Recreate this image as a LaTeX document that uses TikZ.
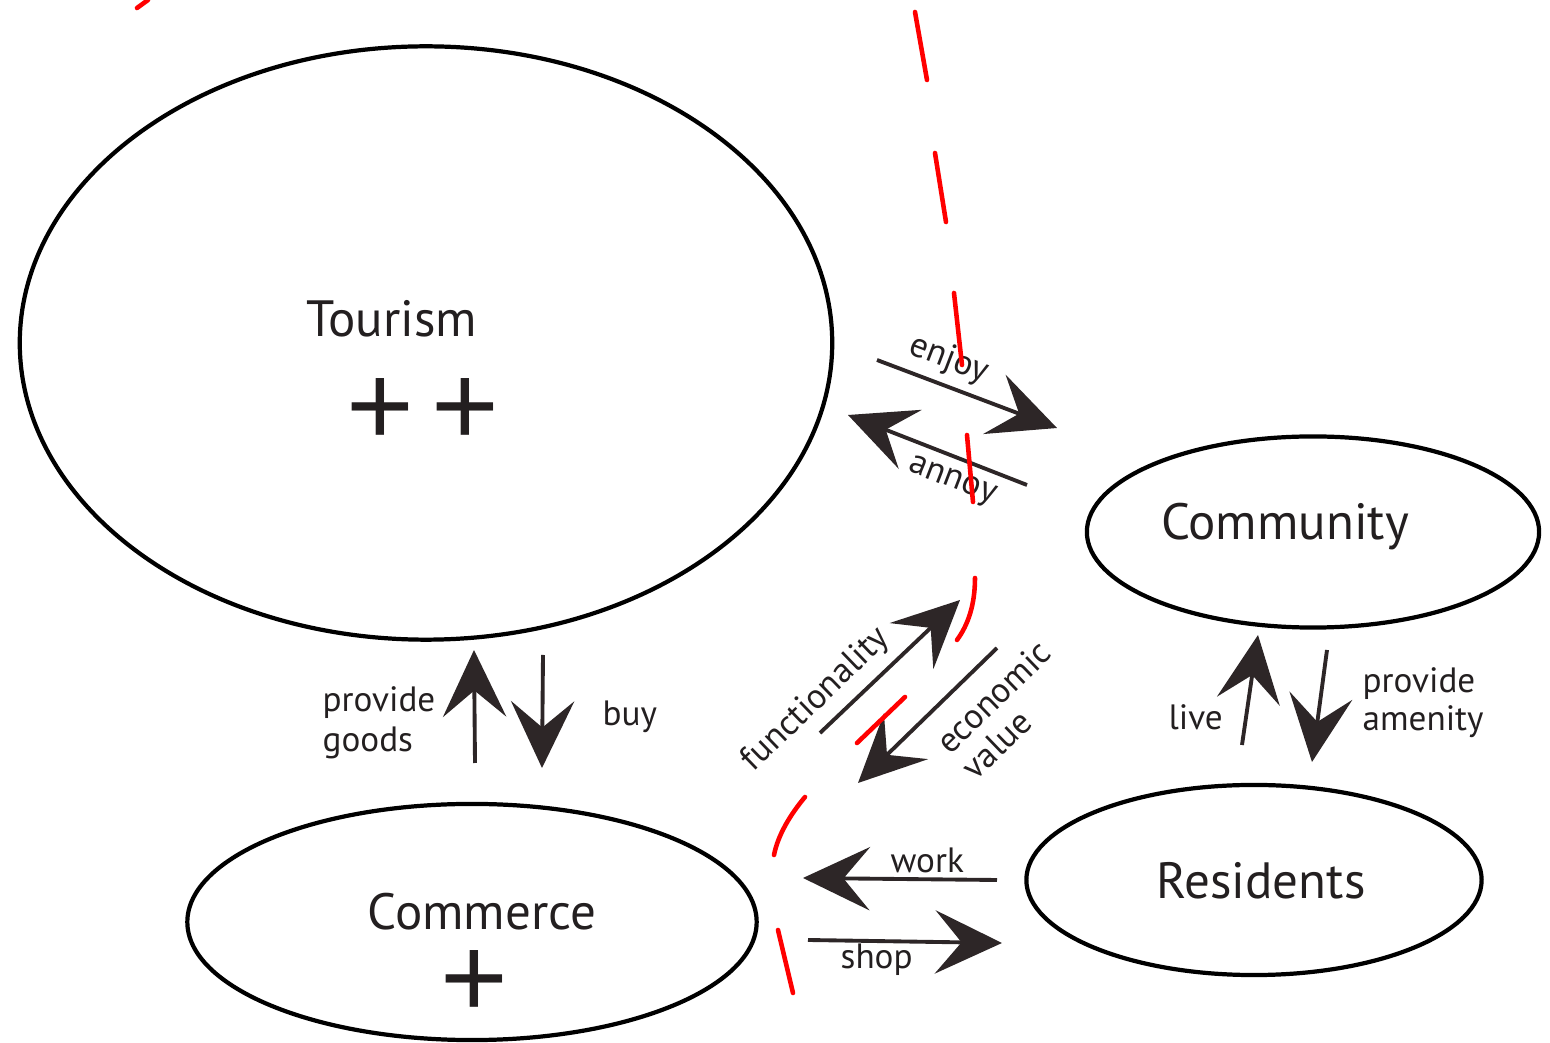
\documentclass[tikz,border=0pt]{standalone}
\usepackage{fontspec}
\setmainfont{PT Sans}
\newfontfamily\plusfont{Liberation Sans}
\usetikzlibrary{arrows.meta,shapes.geometric}
\definecolor{ink}{RGB}{35,31,32}
\definecolor{arr}{RGB}{45,38,39}
\begin{document}
\begin{tikzpicture}[x=0.01cm,y=-0.01cm,
  ell/.style={draw=black, line width=1.2pt, ellipse, inner sep=0pt},
  lbl/.style={font=\fontsize{14.5}{17}\selectfont, text=ink, inner sep=0pt},
  plus/.style={font=\plusfont\fontsize{33}{35}\selectfont, text=ink, inner sep=0pt},
  small/.style={font=\fontsize{10}{11}\selectfont, text=ink, inner sep=0pt},
  flow/.style={draw=arr, line width=1.1pt, -{Stealth[length=19pt,width=18pt,inset=7.5pt]}},
  redd/.style={draw=red, line width=1.3pt, line cap=round}]
\useasboundingbox[fill=white] (0,0) rectangle (1550,1043);

% ellipses
\node[ell, minimum width=8.12cm, minimum height=5.93cm] (tourism) at (426,343) {};
\node[ell, minimum width=4.52cm, minimum height=1.91cm] (community) at (1313,532) {};
\node[ell, minimum width=4.55cm, minimum height=1.90cm] (residents) at (1254,880) {};
\node[ell, minimum width=5.69cm, minimum height=2.36cm] (commerce) at (472,922) {};

% main labels
\node[lbl, anchor=base] (tourismlbl) at (392,337) {Tourism};
\node[plus] (p1) at (380,412) {+};
\node[plus] (p2) at (465,412) {+};
\node[lbl, anchor=base] (communitylbl) at (1285,540) {Community};
\node[lbl, anchor=base] (residentslbl) at (1261,899) {Residents};
\node[lbl, anchor=base] (commercelbl) at (482,930) {Commerce};
\node[plus] (p3) at (474,984) {+};

% arrow end points
\coordinate (enjoyS) at (877,360);   \coordinate (enjoyE) at (1057,428);
\coordinate (annoyS) at (1027,485);  \coordinate (annoyE) at (848,415);
\coordinate (funcS) at (820,733);    \coordinate (funcE) at (960,600);
\coordinate (econS) at (997,648);    \coordinate (econE) at (858,783);
\coordinate (goodsS) at (475,763);   \coordinate (goodsE) at (474,650);
\coordinate (buyS) at (543,655);     \coordinate (buyE) at (542,768);
\coordinate (liveS) at (1242,745);   \coordinate (liveE) at (1258,635);
\coordinate (amenS) at (1327,650);   \coordinate (amenE) at (1312,762);
\coordinate (workS) at (997,880);    \coordinate (workE) at (803,878);
\coordinate (shopS) at (808,940);    \coordinate (shopE) at (1002,943);

% arrows
\draw[flow] (enjoyS) -- (enjoyE);
\draw[flow] (annoyS) -- (annoyE);
\draw[flow] (funcS) -- (funcE);
\draw[flow] (econS) -- (econE);
\draw[flow] (goodsS) -- (goodsE);
\draw[flow] (buyS) -- (buyE);
\draw[flow] (liveS) -- (liveE);
\draw[flow] (amenS) -- (amenE);
\draw[flow] (workS) -- (workE);
\draw[flow] (shopS) -- (shopE);

% arrow labels
\node[small, rotate=-21] (enjoylbl) at (949,360) {enjoy};
\node[small, rotate=-21] (annoylbl) at (952,482) {annoy};
\node[small, rotate=44] (funclbl) at (816,700) {functionality};
\node[small, rotate=44, align=left, font=\fontsize{10}{10.5}\selectfont] (econlbl) at (1006,710) {economic\\value};
\node[small, anchor=west, align=left, font=\fontsize{10}{11.4}\selectfont] (goodslbl) at (322,723) {provide\\goods};
\node[small, anchor=base west] (buylbl) at (602,726) {buy};
\node[small, anchor=base west] (livelbl) at (1168,730) {live};
\node[small, anchor=west, align=left, font=\fontsize{10}{10.8}\selectfont] (amenlbl) at (1362,703) {provide\\amenity};
\node[small, anchor=base west] (worklbl) at (890,873) {work};
\node[small, anchor=base west] (shoplbl) at (840,969) {shop};

% red dashed boundary
\draw[redd] (137,8) -- (148,0);
\draw[redd] (915,12) -- (927,80);
\draw[redd] (935,153) -- (946,222);
\draw[redd] (954,293) -- (962,365);
\draw[redd] (967,435) -- (973,502);
\draw[redd] (975,578) .. controls (975,605) and (968,625) .. (957,640);
\draw[redd] (905,697) -- (857,743);
\draw[redd] (805,797) .. controls (790,815) and (778,835) .. (774,855);
\draw[redd] (778,930) -- (793,993);
\end{tikzpicture}
\end{document}
